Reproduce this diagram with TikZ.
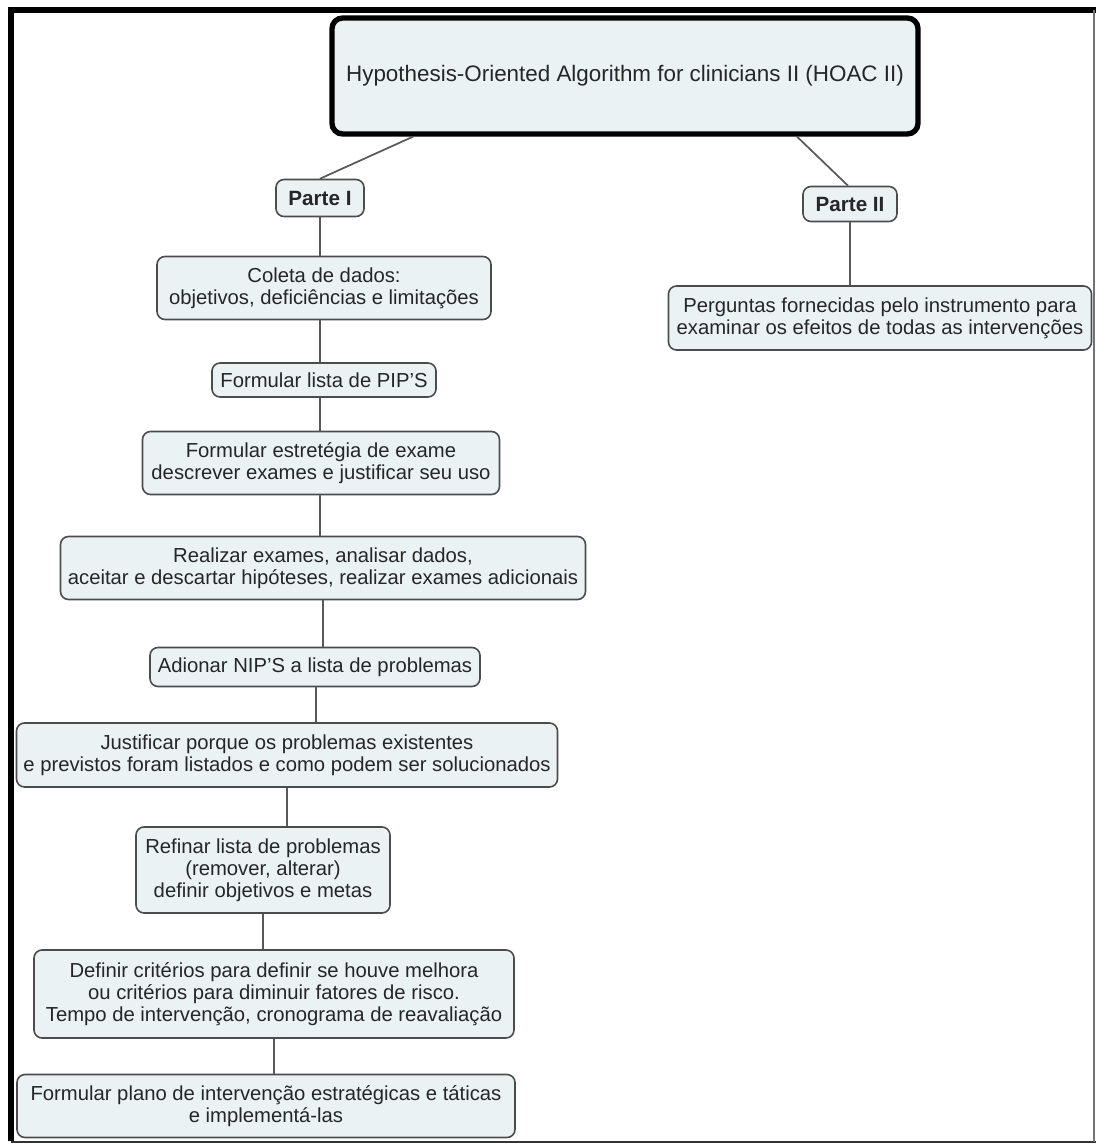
\documentclass[tikz,border=0pt]{standalone}
\usepackage{fontspec}
\setmainfont{Liberation Sans}
\begin{document}
\begin{tikzpicture}[x=0.75pt,y=-0.75pt,
  bw/.style={minimum width=#1*0.75pt},
  bh/.style={minimum height=#1*0.75pt},
  box/.style={draw=black!70,fill=boxfill,rounded corners=6pt,line width=1.2pt,align=center,
    text=black!85,font=\fontsize{15.2}{16.6}\selectfont,inner sep=0pt},
  partbox/.style={box,font=\fontsize{15.5}{17}\selectfont\bfseries},
  link/.style={draw=black!65,line width=1.3pt}]
\definecolor{boxfill}{HTML}{EAF2F4}
\useasboundingbox (0,0) rectangle (1096,1144);
\fill[white] (0,0) rectangle (1096,1144);
% frame
\draw[line width=5pt,black] (11,1141) -- (11,10) -- (1096,10);
\draw[line width=2pt,black!80] (11,1142) -- (1096,1142);
\draw[line width=1.5pt,black!55] (1094,10) -- (1094,1142);
% nodes
\node[box,draw=black,line width=4pt,rounded corners=8pt,bw=586,bh=116,
  font=\fontsize{16.8}{18}\selectfont] (title) at (625,76)
  {Hypothesis-Oriented Algorithm for clinicians II (HOAC II)};
\node[partbox,bw=88,bh=37] (p1) at (320,198) {Parte I};
\node[partbox,bw=94,bh=35] (p2) at (850,204) {Parte II};
\node[box,bw=423,bh=64] (perg) at (880,318)
  {Perguntas fornecidas pelo instrumento para\\examinar os efeitos de todas as intervenções};
\node[box,bw=334,bh=63] (col) at (324,288)
  {Coleta de dados:\\objetivos, deficiências e limitações};
\node[box,bw=224,bh=34] (pip) at (324,380) {Formular lista de PIP'S};
\node[box,bw=357,bh=63] (est) at (321,463)
  {Formular estretégia de exame\\descrever exames e justificar seu uso};
\node[box,bw=525,bh=63] (rea) at (323,568)
  {Realizar exames, analisar dados,\\aceitar e descartar hipóteses, realizar exames adicionais};
\node[box,bw=330,bh=39] (adi) at (315,667) {Adionar NIP'S a lista de problemas};
\node[box,bw=541,bh=64] (jus) at (287,755)
  {Justificar porque os problemas existentes\\e previstos foram listados e como podem ser solucionados};
\node[box,bw=254,bh=86] (ref) at (263,870)
  {Refinar lista de problemas\\(remover, alterar)\\definir objetivos e metas};
\node[box,bw=480,bh=88] (def) at (274,994)
  {Definir critérios para definir se houve melhora\\ou critérios para diminuir fatores de risco.\\Tempo de intervenção, cronograma de reavaliação};
\node[box,bw=498,bh=63] (pla) at (266,1106)
  {Formular plano de intervenção estratégicas e táticas\\e implementá-las};
% connectors
\draw[link] ([xshift=-159pt]title.south) -- (p1.north);
\draw[link] ([xshift=129pt]title.south) -- ([xshift=-1.5pt]p2.north);
\draw[link] (p2.south) -- (p2.south |- perg.north);
\draw[link] (p1.south) -- (p1.south |- col.north);
\draw[link] ([xshift=-3pt]col.south) -- ([xshift=-3pt]col.south |- pip.north);
\draw[link] ([xshift=-3pt]pip.south) -- ([xshift=-3pt]pip.south |- est.north);
\draw[link] ([xshift=-1pt]est.south) -- ([xshift=-1pt]est.south |- rea.north);
\draw[link] (rea.south) -- (rea.south |- adi.north);
\draw[link] ([xshift=1pt]adi.south) -- ([xshift=1pt]adi.south |- jus.north);
\draw[link] (jus.south) -- (jus.south |- ref.north);
\draw[link] (ref.south) -- (ref.south |- def.north);
\draw[link] (def.south) -- (def.south |- pla.north);
\end{tikzpicture}
\end{document}
